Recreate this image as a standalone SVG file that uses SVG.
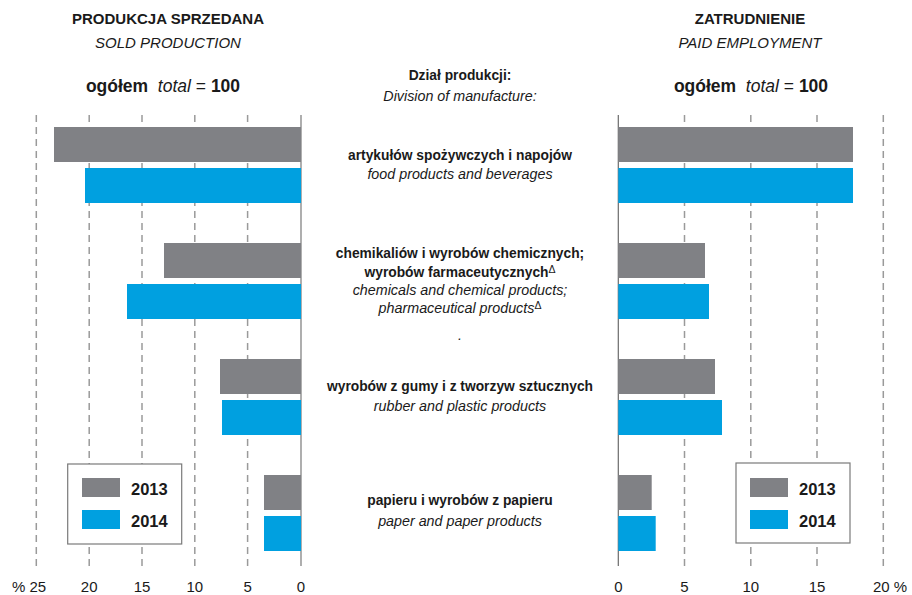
<svg xmlns="http://www.w3.org/2000/svg" width="912" height="595" viewBox="0 0 912 595">
<style>
text{font-family:"Liberation Sans",Arial,sans-serif;fill:#1a1a1a}
.t{font-size:15px;font-weight:bold;text-anchor:middle}
.ti{font-size:15px;font-style:italic;text-anchor:middle}
.tot{font-size:17.5px;font-weight:bold;text-anchor:middle}
.b{font-size:13.8px;font-weight:bold;text-anchor:middle}
.i{font-size:14.3px;font-style:italic;text-anchor:middle}
.ax{font-size:15px;text-anchor:middle}
.lg{font-size:16.5px;font-weight:bold}
.grid{stroke:#9a9a9a;stroke-width:1.5;stroke-dasharray:7 5}
.g{fill:#808185}
.c{fill:#00a0e0}
.leg{fill:#fff;stroke:#7a7a7a;stroke-width:1.2}
</style>
<rect width="912" height="595" fill="#fff"/>
<g id="headers">
<text class="t" x="168" y="24">PRODUKCJA SPRZEDANA</text>
<text class="ti" x="168" y="48">SOLD PRODUCTION</text>
<text x="163" y="92" class="tot" xml:space="preserve"><tspan>ogółem  </tspan><tspan font-weight="normal" font-style="italic">total</tspan><tspan font-weight="normal"> = </tspan><tspan>100</tspan></text>
<text class="t" x="750" y="24">ZATRUDNIENIE</text>
<text class="ti" x="750" y="48">PAID EMPLOYMENT</text>
<text x="751" y="92" class="tot" xml:space="preserve"><tspan>ogółem  </tspan><tspan font-weight="normal" font-style="italic">total</tspan><tspan font-weight="normal"> = </tspan><tspan>100</tspan></text>
<text class="b" x="460" y="80">Dział produkcji:</text>
<text class="i" x="460" y="101">Division of manufacture:</text>
</g>
<g id="grid">
<line class="grid" x1="36.3" y1="115" x2="36.3" y2="566"/>
<line class="grid" x1="89.2" y1="115" x2="89.2" y2="566"/>
<line class="grid" x1="142" y1="115" x2="142" y2="566"/>
<line class="grid" x1="194.8" y1="115" x2="194.8" y2="566"/>
<line class="grid" x1="247.6" y1="115" x2="247.6" y2="566"/>
<line x1="301" y1="115" x2="301" y2="566" stroke="#a6a6a6" stroke-width="1.8"/>
<line x1="618.3" y1="115" x2="618.3" y2="566" stroke="#6a6a6a" stroke-width="1.2"/>
<line class="grid" x1="684.5" y1="115" x2="684.5" y2="566"/>
<line class="grid" x1="750.8" y1="115" x2="750.8" y2="566"/>
<line class="grid" x1="817" y1="115" x2="817" y2="566"/>
<line class="grid" x1="883.3" y1="115" x2="883.3" y2="566"/>
</g>
<g id="food">
<rect class="g" x="54" y="127" width="247" height="35"/>
<rect class="c" x="85" y="168" width="216" height="35"/>
<rect class="g" x="618.3" y="127" width="234.7" height="35"/>
<rect class="c" x="618.3" y="168" width="234.7" height="35"/>
<text class="b" x="460" y="160">artykułów spożywczych i napojów</text>
<text class="i" x="460" y="179">food products and beverages</text>
</g>
<g id="chemicals">
<rect class="g" x="164" y="243" width="137" height="35"/>
<rect class="c" x="127" y="284" width="174" height="35"/>
<rect class="g" x="618.3" y="243" width="86.7" height="35"/>
<rect class="c" x="618.3" y="284" width="90.7" height="35"/>
<text class="b" x="460" y="258">chemikaliów i wyrobów chemicznych;</text>
<text class="b" x="460" y="277">wyrobów farmaceutycznych<tspan font-weight="normal" font-size="10.5" dy="-4.5">Δ</tspan></text>
<text class="i" x="460" y="295">chemicals and chemical products;</text>
<text class="i" x="460" y="313">pharmaceutical products<tspan font-style="normal" font-size="10.5" dy="-4">Δ</tspan></text>
<text class="i" x="460" y="340">.</text>
</g>
<g id="rubber">
<rect class="g" x="220" y="359" width="81" height="35"/>
<rect class="c" x="222" y="400" width="79" height="35"/>
<rect class="g" x="618.3" y="359" width="96.7" height="35"/>
<rect class="c" x="618.3" y="400" width="103.7" height="35"/>
<text class="b" x="460" y="391">wyrobów z gumy i z tworzyw sztucznych</text>
<text class="i" x="460" y="411">rubber and plastic products</text>
</g>
<g id="paper">
<rect class="g" x="264" y="475" width="37" height="35"/>
<rect class="c" x="264" y="516" width="37" height="35"/>
<rect class="g" x="618.3" y="475" width="33.4" height="35"/>
<rect class="c" x="618.3" y="516" width="37.4" height="35"/>
<text class="b" x="460" y="505">papieru i wyrobów z papieru</text>
<text class="i" x="460" y="526">paper and paper products</text>
</g>
<g id="legend-left">
<rect class="leg" x="67.7" y="464" width="114" height="80"/>
<rect class="g" x="82" y="478" width="38" height="19"/>
<rect class="c" x="82" y="510" width="38" height="19"/>
<text class="lg" x="131" y="495">2013</text>
<text class="lg" x="131" y="527">2014</text>
</g>
<g id="legend-right">
<rect class="leg" x="736" y="463" width="114" height="80"/>
<rect class="g" x="750" y="478" width="38" height="19"/>
<rect class="c" x="750" y="510" width="38" height="19"/>
<text class="lg" x="799" y="495">2013</text>
<text class="lg" x="799" y="527">2014</text>
</g>
<g id="axis-labels">
<text class="ax" x="29" y="592">% 25</text>
<text class="ax" x="89.2" y="592">20</text>
<text class="ax" x="142" y="592">15</text>
<text class="ax" x="194.8" y="592">10</text>
<text class="ax" x="247.6" y="592">5</text>
<text class="ax" x="301" y="592">0</text>
<text class="ax" x="618.3" y="592">0</text>
<text class="ax" x="684.5" y="592">5</text>
<text class="ax" x="750.8" y="592">10</text>
<text class="ax" x="817" y="592">15</text>
<text class="ax" x="890" y="592">20 %</text>
</g>
</svg>
